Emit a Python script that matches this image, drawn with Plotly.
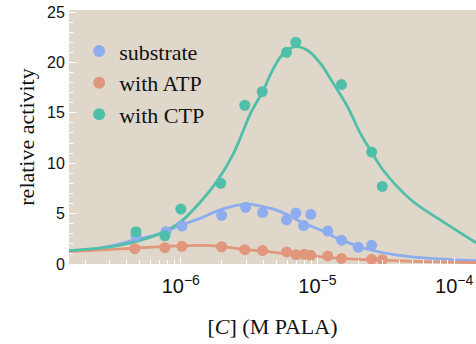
import plotly.graph_objects as go

# ---- measured points ----
sub_x = [4.7e-7, 7.78e-7, 1.02e-6, 1.99e-6, 2.98e-6, 3.97e-6, 5.94e-6, 6.95e-6, 7.93e-6, 8.94e-6, 1.19e-5, 1.50e-5, 1.99e-5, 2.49e-5]
sub_y = [2.8, 3.2, 3.77, 4.83, 5.62, 5.1, 4.37, 5.05, 3.82, 4.93, 3.27, 2.36, 1.65, 1.85]

atp_x = [4.6e-7, 7.64e-7, 1.02e-6, 1.99e-6, 2.94e-6, 3.97e-6, 5.94e-6, 6.95e-6, 7.99e-6, 8.94e-6, 1.19e-5, 1.50e-5, 2.49e-5, 2.98e-5]
atp_y = [1.52, 1.62, 1.75, 1.71, 1.42, 1.34, 1.2, 0.93, 0.96, 0.86, 0.8, 0.55, 0.46, 0.43]

ctp_x = [4.7e-7, 7.64e-7, 1.0e-6, 1.96e-6, 2.94e-6, 3.94e-6, 5.94e-6, 6.95e-6, 1.50e-5, 2.49e-5, 2.98e-5]
ctp_y = [3.2, 2.8, 5.45, 8.0, 15.75, 17.1, 21.0, 22.0, 17.8, 11.1, 7.7]

# ---- fitted curves ----
sub_fx = [1.52e-7, 2.61e-7, 4.31e-7, 7.14e-7, 1.0e-6, 1.40e-6, 1.96e-6, 2.98e-6, 3.84e-6, 5.37e-6, 7.52e-6, 1.05e-5, 1.47e-5, 1.74e-5, 2.44e-5, 3.84e-5, 6.68e-5, 1.445e-4]
sub_fy = [1.25, 1.6, 2.3, 3.05, 3.85, 4.55, 5.4, 5.95, 5.75, 5.2, 4.2, 3.37, 2.4, 2.05, 1.39, 0.89, 0.56, 0.33]

atp_fx = [1.52e-7, 4.31e-7, 7.14e-7, 1.0e-6, 1.40e-6, 1.96e-6, 2.98e-6, 3.97e-6, 5.53e-6, 8.89e-6, 1.31e-5, 2.44e-5, 5.02e-5, 1.445e-4]
atp_fy = [1.22, 1.55, 1.72, 1.8, 1.84, 1.75, 1.42, 1.29, 1.06, 0.82, 0.6, 0.42, 0.27, 0.13]

ctp_fx = [1.52e-7, 2.61e-7, 4.31e-7, 7.14e-7, 1.0e-6, 1.40e-6, 1.86e-6, 2.44e-6, 3.24e-6, 3.97e-6, 4.70e-6, 5.65e-6, 6.91e-6, 8.45e-6, 1.05e-5, 1.31e-5, 1.66e-5, 2.06e-5, 2.44e-5, 3.03e-5, 4.85e-5, 7.91e-5, 1.445e-4]
ctp_fy = [1.32, 1.59, 2.1, 3.05, 4.2, 6.2, 8.3, 11.0, 14.95, 17.1, 19.25, 20.9, 21.56, 21.2, 19.9, 17.9, 15.6, 12.96, 11.3, 9.3, 6.35, 4.37, 2.11]

series_names = ["substrate", "with ATP", "with CTP"]
colors = ["#8DADEF", "#E0977B", "#4FBFAA"]

fig = go.Figure()
for fx, fy, c in [(sub_fx, sub_fy, colors[0]), (atp_fx, atp_fy, colors[1]), (ctp_fx, ctp_fy, colors[2])]:
    fig.add_trace(go.Scatter(x=fx, y=fy, mode="lines", line=dict(color=c, width=2.8, shape="spline"),
                             showlegend=False, hoverinfo="skip"))
for x, y, c, n in [(sub_x, sub_y, colors[0], series_names[0]), (atp_x, atp_y, colors[1], series_names[1]),
                   (ctp_x, ctp_y, colors[2], series_names[2])]:
    fig.add_trace(go.Scatter(x=x, y=y, mode="markers", name=n, marker=dict(color=c, size=11)))

serif = "Liberation Serif, Times New Roman, serif"
sans = "Liberation Sans, Arial, sans-serif"

fig.update_layout(
    width=476, height=344,
    margin=dict(l=69, r=0, t=10, b=80),
    paper_bgcolor="white",
    plot_bgcolor="#DFD7C9",
    showlegend=True,
    legend=dict(x=0.025, y=0.92, xanchor="left", yanchor="top", bgcolor="rgba(0,0,0,0)",
                font=dict(family=serif, size=22, color="#111"), itemsizing="constant",
                tracegroupgap=0),
    xaxis=dict(type="log", range=[-6.818, -3.84], showgrid=False, zeroline=False,
               ticks="inside", ticklen=7, tickcolor="white", tickwidth=1,
               minor=dict(ticks="inside", ticklen=4, tickcolor="white", tickwidth=1, showgrid=False),
               exponentformat="power", dtick=1,
               tickfont=dict(family=sans, size=16, color="#111"), ticklabelstandoff=8,
               title=dict(text="[<i>C</i>] (M PALA)", font=dict(family=serif, size=22, color="#111"), standoff=22),
               showline=False),
    yaxis=dict(range=[0, 25.2], showgrid=False, zeroline=False,
               ticks="inside", ticklen=7, tickcolor="white", tickwidth=1, dtick=5, tick0=0,
               minor=dict(ticks="inside", ticklen=4, tickcolor="white", tickwidth=1, dtick=1, showgrid=False),
               tickfont=dict(family=sans, size=16, color="#111"),
               title=dict(text="relative activity", font=dict(family=serif, size=22, color="#111"), standoff=6),
               showline=True, linecolor="white", linewidth=1),
)

fig.write_html("out.html")
